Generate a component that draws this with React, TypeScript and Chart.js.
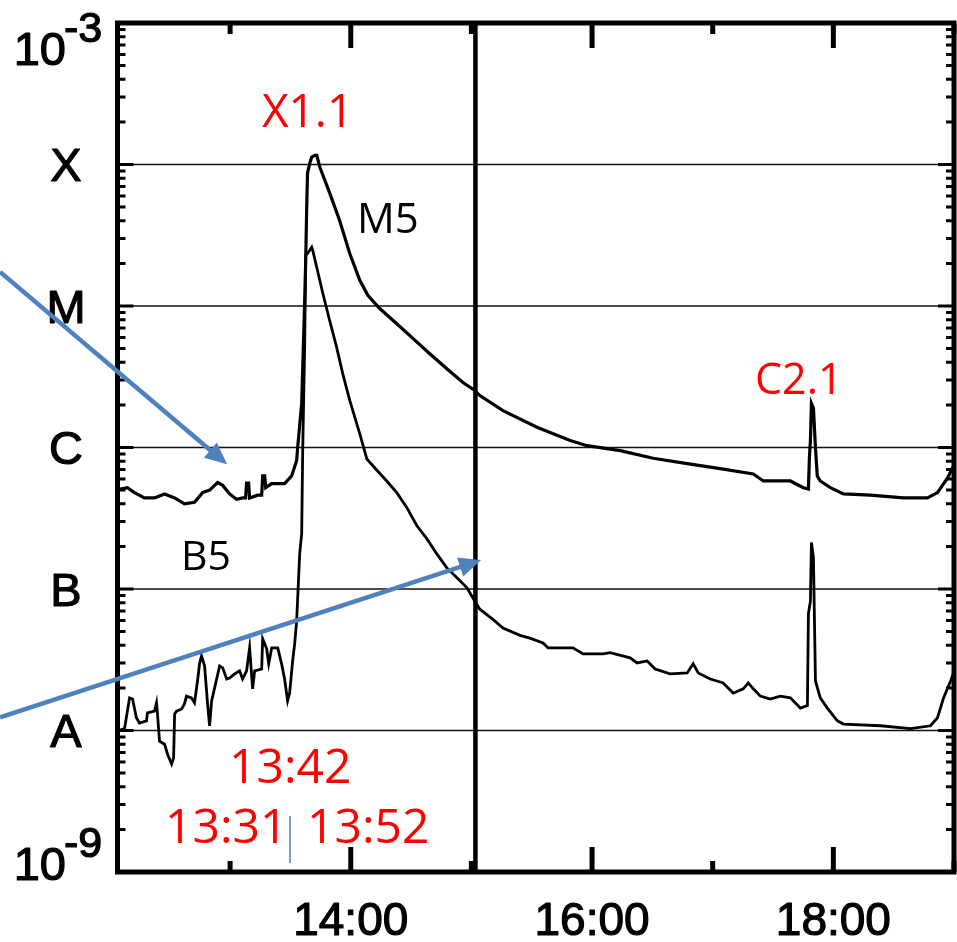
import React, { useEffect, useRef } from 'react';
import { Chart, registerables } from 'chart.js';
Chart.register(...registerables);

// Time in minutes after 12:00 UT, flux in W/m^2
const longTimes = [4.5, 6, 9, 12.4, 17.4, 22.4, 27.4, 32.4, 37.3, 42.3, 46.3, 49.8, 53.8, 56.3, 59.8, 63.2, 66.2, 67.7, 68.2, 69.2, 69.7, 73.7, 75.7, 76.2, 77.2, 77.7, 80.7, 87.1, 90.6, 93.1, 93.6, 95.6, 97.1, 97.6, 98.1, 98.5, 99.6, 100.6, 102.1, 103.1, 104.6, 109.5, 114.5, 119.5, 124.5, 128.5, 134.4, 142.9, 150.9, 159.3, 167.8, 175.8, 181.7, 184.2, 195.7, 212.6, 229.1, 237.5, 254.0, 270.4, 287.3, 303.7, 320.2, 325.2, 338.6, 345.1, 347.6, 348.1, 348.6, 349.1, 350.1, 351.1, 352.0, 353.5, 358.5, 365.0, 378.4, 394.9, 406.8, 411.8, 416.8, 420];
const longFlux = [5.0e-7, 5.1e-7, 5.2e-7, 4.8e-7, 4.4e-7, 4.4e-7, 4.7e-7, 4.4e-7, 4.0e-7, 4.1e-7, 4.8e-7, 5.0e-7, 5.65e-7, 5.4e-7, 4.7e-7, 4.3e-7, 4.4e-7, 4.4e-7, 5.6e-7, 5.6e-7, 4.4e-7, 4.6e-7, 4.6e-7, 6.3e-7, 6.3e-7, 5.2e-7, 5.55e-7, 5.55e-7, 6.3e-7, 8.1e-7, 1.0e-6, 2.05e-6, 1.1e-5, 2.1e-5, 5.0e-5, 8.7e-5, 1.02e-4, 1.13e-4, 1.16e-4, 1.16e-4, 9.6e-5, 6.3e-5, 4.0e-5, 2.35e-5, 1.52e-5, 1.19e-5, 9.6e-6, 7.5e-6, 5.9e-6, 4.6e-6, 3.6e-6, 2.88e-6, 2.53e-6, 2.33e-6, 1.82e-6, 1.39e-6, 1.12e-6, 1.03e-6, 9.5e-7, 8.4e-7, 7.7e-7, 7.1e-7, 6.5e-7, 5.8e-7, 5.8e-7, 5.2e-7, 5.1e-7, 8.5e-7, 1.12e-6, 2.05e-6, 1.9e-6, 1.0e-6, 6.3e-7, 5.8e-7, 5.2e-7, 4.7e-7, 4.6e-7, 4.4e-7, 4.4e-7, 4.8e-7, 6.1e-7, 7.5e-7];

const shortTimes = [4.5, 7.5, 10.0, 11.5, 13.4, 14.9, 18.4, 18.9, 22.4, 23.4, 23.9, 24.9, 27.4, 28.9, 30.9, 31.9, 32.4, 33.4, 35.9, 37.3, 38.3, 40.8, 42.3, 43.8, 44.8, 45.8, 47.3, 48.8, 49.8, 50.8, 52.3, 54.8, 56.3, 58.3, 59.8, 62.2, 64.7, 66.2, 68.2, 69.7, 71.2, 72.2, 75.7, 76.2, 78.2, 79.2, 80.7, 83.7, 85.6, 87.1, 88.6, 89.6, 91.1, 92.1, 93.1, 94.6, 95.6, 96.1, 97.1, 97.6, 98.6, 100.6, 101.1, 103.1, 106.1, 109.5, 113.0, 116.0, 119.5, 124.5, 128.0, 133.0, 137.9, 142.9, 147.9, 152.9, 157.8, 162.8, 167.8, 172.8, 177.8, 181.7, 184.2, 190.7, 195.7, 204.2, 209.1, 215.6, 218.1, 230.5, 235.5, 245.5, 249.0, 258.9, 262.4, 267.4, 271.4, 278.8, 287.3, 290.3, 292.8, 298.8, 305.2, 310.2, 315.2, 317.7, 320.2, 323.7, 328.6, 333.6, 338.6, 343.6, 347.1, 347.6, 348.6, 349.1, 350.1, 351.1, 353.5, 357.0, 362.0, 365.0, 383.4, 398.4, 408.3, 411.8, 414.8, 418.3, 420];
const shortFlux = [1.0e-8, 1.03e-8, 1.7e-8, 1.67e-8, 1.23e-8, 1.13e-8, 1.17e-8, 1.33e-8, 1.37e-8, 1.57e-8, 1.3e-8, 8.4e-9, 8.0e-9, 6.8e-9, 5.8e-9, 6.4e-9, 1.31e-8, 1.37e-8, 1.42e-8, 1.54e-8, 1.75e-8, 1.7e-8, 1.57e-8, 2.24e-8, 2.96e-8, 3.37e-8, 2.86e-8, 1.54e-8, 1.08e-8, 1.62e-8, 2.0e-8, 2.86e-8, 2.77e-8, 2.31e-8, 2.35e-8, 2.51e-8, 2.64e-8, 2.31e-8, 2.64e-8, 3.84e-8, 1.97e-8, 2.64e-8, 2.72e-8, 4.44e-8, 3.78e-8, 2.96e-8, 3.84e-8, 3.84e-8, 2.96e-8, 2.31e-8, 1.62e-8, 1.84e-8, 3.1e-8, 4.1e-8, 5.96e-8, 1.77e-7, 2.46e-7, 9.5e-7, 5.4e-6, 2.28e-5, 2.36e-5, 2.6e-5, 2.47e-5, 1.87e-5, 1.23e-5, 7.9e-6, 5.1e-6, 3.33e-6, 2.15e-6, 1.25e-6, 8.3e-7, 6.9e-7, 5.8e-7, 4.8e-7, 3.76e-7, 2.8e-7, 2.27e-7, 1.77e-7, 1.41e-7, 1.2e-7, 1.02e-7, 8.2e-8, 7.2e-8, 6.1e-8, 5.3e-8, 4.7e-8, 4.5e-8, 4.16e-8, 3.84e-8, 3.84e-8, 3.48e-8, 3.48e-8, 3.55e-8, 3.26e-8, 3.0e-8, 3.1e-8, 2.72e-8, 2.51e-8, 2.55e-8, 2.96e-8, 2.55e-8, 2.31e-8, 2.17e-8, 1.84e-8, 1.97e-8, 2.17e-8, 1.97e-8, 1.75e-8, 1.67e-8, 1.75e-8, 1.7e-8, 1.44e-8, 1.5e-8, 6.7e-8, 8.2e-8, 2.13e-7, 1.67e-7, 2.24e-8, 1.7e-8, 1.44e-8, 1.17e-8, 1.11e-8, 1.08e-8, 1.03e-8, 1.08e-8, 1.23e-8, 1.7e-8, 2.24e-8, 2.6e-8];

// Axes
const xMin = 4;
const xMax = 420;
const yMin = 1e-9;
const yMax = 1e-3;
const hourTicks = [60, 120, 180, 240, 300, 360, 420];
const xLabelTicks = [120, 240, 360];
const xTickLabels = ['14:00', '16:00', '18:00'];
const classValues = [1e-8, 1e-7, 1e-6, 1e-5, 1e-4];
const classLabels = ['A', 'B', 'C', 'M', 'X'];
const decadeExpLabels = ['-9', '-3'];
const markerTime = 182; // vertical marker line just after 15:00

// Annotation arrows in data coordinates [tailTime, tailFlux, tipTime, tipFlux]
const arrows = [
  [-54.4, 1.74e-5, 58.5, 7.6e-7],
  [-54.4, 1.24e-8, 184.8, 1.6e-7],
];

const BLUE = '#4F81BD';
const RED = '#FF0000';
const AXIS_FONT = '"Liberation Sans", Arial, Helvetica, sans-serif';
const NOTE_FONT = '"Open Sans", "Noto Sans", sans-serif';

function boldText(ctx: CanvasRenderingContext2D, s: string, x: number, y: number) {
  ctx.fillText(s, x, y);
  ctx.strokeText(s, x, y);
}

const decorPlugin = {
  id: 'decor',
  beforeDatasetsDraw(chart: any) {
    const { ctx, chartArea: a, scales } = chart;
    const y = scales.y;
    ctx.save();
    ctx.strokeStyle = '#111';
    ctx.lineWidth = 1.6;
    classValues.forEach((v) => {
      const py = y.getPixelForValue(v);
      ctx.beginPath();
      ctx.moveTo(a.left, py);
      ctx.lineTo(a.right, py);
      ctx.stroke();
    });
    ctx.restore();
  },
  afterDatasetsDraw(chart: any) {
    const { ctx, chartArea: a, scales } = chart;
    const x = scales.x;
    const y = scales.y;
    ctx.save();
    ctx.strokeStyle = '#000';
    // vertical marker line
    ctx.lineWidth = 4.5;
    const mx = x.getPixelForValue(markerTime);
    ctx.beginPath();
    ctx.moveTo(mx, a.top);
    ctx.lineTo(mx, a.bottom);
    ctx.stroke();
    // y ticks (log minor + decades), inward on left and right
    ctx.lineWidth = 3;
    for (let d = -9; d <= -3; d++) {
      for (let k = 1; k <= 9; k++) {
        const v = k * Math.pow(10, d);
        if (v > yMax * 1.0001) break;
        const py = y.getPixelForValue(v);
        const len = k === 1 ? 16 : 8;
        ctx.beginPath();
        ctx.moveTo(a.left, py);
        ctx.lineTo(a.left + len, py);
        ctx.moveTo(a.right, py);
        ctx.lineTo(a.right - len, py);
        ctx.stroke();
      }
    }
    // x ticks, inward on bottom and top
    ctx.lineWidth = 5;
    hourTicks.forEach((t) => {
      const px = x.getPixelForValue(t);
      const len = (t / 60) % 2 === 0 ? 25 : 11;
      ctx.beginPath();
      ctx.moveTo(px, a.bottom);
      ctx.lineTo(px, a.bottom - len);
      ctx.moveTo(px, a.top);
      ctx.lineTo(px, a.top + len);
      ctx.stroke();
    });
    // frame
    ctx.lineWidth = 5;
    ctx.strokeRect(a.left, a.top, a.right - a.left, a.bottom - a.top);
    ctx.restore();
  },
  afterDraw(chart: any) {
    const { ctx, chartArea: a, scales } = chart;
    const x = scales.x;
    const y = scales.y;
    ctx.save();
    // y axis labels
    ctx.fillStyle = '#000';
    ctx.strokeStyle = '#000';
    ctx.lineWidth = 1.2;
    ctx.lineJoin = 'round';
    ctx.font = `47px ${AXIS_FONT}`;
    ctx.textAlign = 'center';
    ctx.textBaseline = 'alphabetic';
    classValues.forEach((v, i) => {
      boldText(ctx, classLabels[i], 66, y.getPixelForValue(v) + 16.5);
    });
    // 10^-3 and 10^-9
    const topPy = y.getPixelForValue(yMax);
    const botPy = y.getPixelForValue(yMin);
    ctx.textAlign = 'right';
    boldText(ctx, '10', 66, topPy + 42);
    boldText(ctx, '10', 66, botPy + 8);
    ctx.textAlign = 'left';
    ctx.font = `43px ${AXIS_FONT}`;
    boldText(ctx, decadeExpLabels[1], 64, topPy + 19);
    boldText(ctx, decadeExpLabels[0], 64, botPy - 15);
    // x labels
    ctx.font = `46px ${AXIS_FONT}`;
    ctx.textAlign = 'center';
    xLabelTicks.forEach((t, i) => {
      boldText(ctx, xTickLabels[i], x.getPixelForValue(t), a.bottom + 63);
    });

    // annotations text
    ctx.textAlign = 'left';
    ctx.fillStyle = RED;
    ctx.font = `46px ${NOTE_FONT}`;
    ctx.fillText('X1.1', 262, 127);
    ctx.font = `48px ${NOTE_FONT}`;
    ctx.fillText('13:42', 229, 783);
    ctx.fillText('13:31', 165, 843);
    ctx.fillText('13:52', 307, 843);
    ctx.font = `43px ${NOTE_FONT}`;
    ctx.fillText('C2.1', 755, 394);
    ctx.fillStyle = '#000';
    ctx.font = `42px ${NOTE_FONT}`;
    ctx.fillText('M5', 357, 233);
    ctx.font = `41px ${NOTE_FONT}`;
    ctx.fillText('B5', 181, 570);

    // blue annotation arrows
    ctx.strokeStyle = BLUE;
    ctx.fillStyle = BLUE;
    ctx.lineWidth = 4.5;
    ctx.lineCap = 'butt';
    arrows.forEach(([t0, f0, t1, f1]) => {
      const x0 = x.getPixelForValue(t0);
      const y0 = y.getPixelForValue(f0);
      const x1 = x.getPixelForValue(t1);
      const y1 = y.getPixelForValue(f1);
      const dx = x1 - x0;
      const dy = y1 - y0;
      const len = Math.hypot(dx, dy);
      const ux = dx / len;
      const uy = dy / len;
      const hl = 22;
      const hw = 10;
      const bx = x1 - ux * hl;
      const by = y1 - uy * hl;
      ctx.beginPath();
      ctx.moveTo(x0, y0);
      ctx.lineTo(bx + ux * 2, by + uy * 2);
      ctx.stroke();
      ctx.beginPath();
      ctx.moveTo(x1, y1);
      ctx.lineTo(bx - uy * hw, by + ux * hw);
      ctx.lineTo(bx + uy * hw, by - ux * hw);
      ctx.closePath();
      ctx.fill();
    });
    // thin blue divider between 13:31 and 13:52
    ctx.lineWidth = 1.5;
    ctx.beginPath();
    ctx.moveTo(290, 816);
    ctx.lineTo(290, 863);
    ctx.stroke();
    ctx.restore();
  },
};

export default function App() {
  const canvasRef = useRef<HTMLCanvasElement | null>(null);
  useEffect(() => {
    const canvas = canvasRef.current;
    if (!canvas) return;
    const chart = new Chart(canvas, {
      type: 'line',
      data: {
        datasets: [
          {
            label: 'Long channel (1-8 Å)',
            data: longTimes.map((t, i) => ({ x: t, y: longFlux[i] })),
            borderColor: '#000',
            borderWidth: 3.2,
            pointRadius: 0,
            tension: 0,
            fill: false,
          },
          {
            label: 'Short channel (0.5-4 Å)',
            data: shortTimes.map((t, i) => ({ x: t, y: shortFlux[i] })),
            borderColor: '#000',
            borderWidth: 2.8,
            pointRadius: 0,
            tension: 0,
            fill: false,
          },
        ],
      },
      options: {
        animation: false,
        responsive: false,
        maintainAspectRatio: false,
        devicePixelRatio: 1,
        layout: { padding: { left: 117.5, right: 3, top: 23, bottom: 70 } },
        plugins: { legend: { display: false }, tooltip: { enabled: false } },
        scales: {
          x: { type: 'linear', min: xMin, max: xMax, display: false },
          y: { type: 'logarithmic', min: yMin, max: yMax, display: false },
        },
      },
      plugins: [decorPlugin],
    } as any);
    return () => chart.destroy();
  }, []);
  return (
    <div style={{ position: 'absolute', left: 0, top: 0, width: 957, height: 942, background: '#fff' }}>
      <canvas ref={canvasRef} width={957} height={942} style={{ display: 'block' }} />
    </div>
  );
}
